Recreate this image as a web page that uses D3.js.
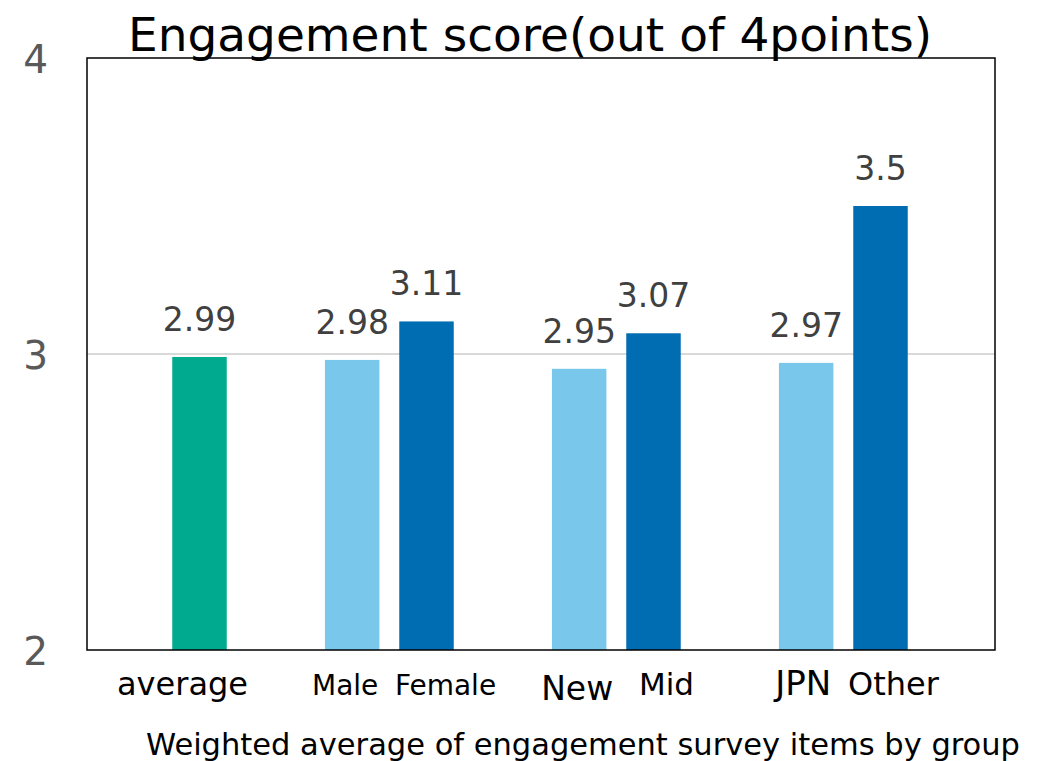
<!DOCTYPE html>
<html>
<head>
<meta charset="utf-8">
<script src="https://cdn.jsdelivr.net/npm/d3@7"></script>
<style>
body { margin: 0; background: #fff; }
svg { display: block; }
text { font-family: "DejaVu Sans", Verdana, sans-serif; }
</style>
</head>
<body>
<script>
var width = 1041, height = 761;

// data
var groups = ['g0', 'g1', 'g2', 'g3'];
var slots = ['a', 'b', 'c'];
var barLabels = ['average', 'Male', 'Female', 'New', 'Mid', 'JPN', 'Other'];
var barGroups = ['g0', 'g1', 'g1', 'g2', 'g2', 'g3', 'g3'];
var barSlots = ['b', 'a', 'b', 'a', 'b', 'a', 'b'];
var barValues = [2.99, 2.98, 3.11, 2.95, 3.07, 2.97, 3.5];
var barKinds = ['avg', 'light', 'dark', 'light', 'dark', 'light', 'dark'];
var yTicks = [2, 3, 4];

var colors = { avg: '#00AA8E', light: '#79C7EB', dark: '#006DB3' };

// label tweaks (the original text boxes are not centred on the bars)
var labelDx = { average: -17, Male: -7, Female: 19, New: -2, Mid: 13, JPN: -3, Other: 13 };
var labelDy = { average: 0, Male: 0, Female: 0, New: 5, Mid: 0, JPN: 0, Other: 0 };
var labelSize = { average: 32, Male: 28, Female: 28, New: 33, Mid: 31, JPN: 34, Other: 32 };

var plot = { left: 87, right: 995, top: 58, bottom: 650 };

var svg = d3.select('body').append('svg')
	.attr('width', width)
	.attr('height', height);

var x0 = d3.scaleBand().domain(groups).range([plot.left, plot.right]).padding(0);
var x1 = d3.scaleBand().domain(slots).range([0, x0.bandwidth()]).paddingInner(0).paddingOuter(0.027);
var y = d3.scaleLinear().domain([2, 4]).range([plot.bottom, plot.top]);

var barW = x1.bandwidth() * 0.733;

var bars = barLabels.map(function(d, i) {
	return { label: d, g: barGroups[i], s: barSlots[i], v: barValues[i], k: barKinds[i] };
});

function barX(d) { return x0(d.g) + x1(d.s) + (x1.bandwidth() - barW) / 2 - 1; }
function barC(d) { return x0(d.g) + x1(d.s) + x1.bandwidth() / 2 - 1; }

// gridline at 3
svg.append('g')
	.selectAll('line')
	.data(yTicks.filter(function(t) { return t > 2 && t < 4; }))
	.enter()
	.append('line')
	.attr('x1', plot.left)
	.attr('x2', plot.right)
	.attr('y1', function(d) { return y(d); })
	.attr('y2', function(d) { return y(d); })
	.attr('stroke', '#D9D9D9')
	.attr('stroke-width', 2);

// bars
svg.selectAll('.bar')
	.data(bars)
	.enter()
	.append('rect')
	.attr('class', 'bar')
	.attr('x', barX)
	.attr('width', barW)
	.attr('y', function(d) { return y(d.v); })
	.attr('height', function(d) { return y(2) - y(d.v); })
	.style('fill', function(d) { return colors[d.k]; });

// value labels
svg.selectAll('.val')
	.data(bars)
	.enter()
	.append('text')
	.attr('class', 'val')
	.attr('text-anchor', 'middle')
	.attr('x', barC)
	.attr('y', function(d) { return y(d.v) - 26; })
	.attr('font-size', 33)
	.attr('fill', '#404040')
	.text(function(d) { return d.v; });

// plot frame
svg.append('rect')
	.attr('x', plot.left)
	.attr('y', plot.top)
	.attr('width', plot.right - plot.left)
	.attr('height', plot.bottom - plot.top)
	.attr('fill', 'none')
	.attr('stroke', '#000')
	.attr('stroke-width', 1.5);

// y axis labels
var yAxis = d3.axisLeft(y).tickValues(yTicks).tickSize(0).tickPadding(0).tickFormat(d3.format('d'));
var ya = svg.append('g')
	.attr('transform', 'translate(48,0)')
	.call(yAxis);
ya.select('.domain').remove();
ya.selectAll('text')
	.attr('font-family', '"DejaVu Sans", Verdana, sans-serif')
	.attr('font-size', 39)
	.attr('fill', '#595959')
	.attr('dy', '0.36em');

// category labels
svg.selectAll('.cat')
	.data(bars)
	.enter()
	.append('text')
	.attr('class', 'cat')
	.attr('text-anchor', 'middle')
	.attr('x', function(d) { return barC(d) + labelDx[d.label]; })
	.attr('y', function(d) { return 695 + labelDy[d.label]; })
	.attr('font-size', function(d) { return labelSize[d.label]; })
	.attr('fill', '#000')
	.text(function(d) { return d.label; });

// title
svg.append('text')
	.attr('text-anchor', 'middle')
	.attr('x', 530)
	.attr('y', 51)
	.attr('font-size', 47)
	.attr('fill', '#000')
	.text('Engagement score(out of 4points)');

// note
svg.append('text')
	.attr('text-anchor', 'middle')
	.attr('x', 583)
	.attr('y', 755)
	.attr('font-size', 30.5)
	.attr('fill', '#000')
	.text('Weighted average of engagement survey items by group');
</script>
</body>
</html>
